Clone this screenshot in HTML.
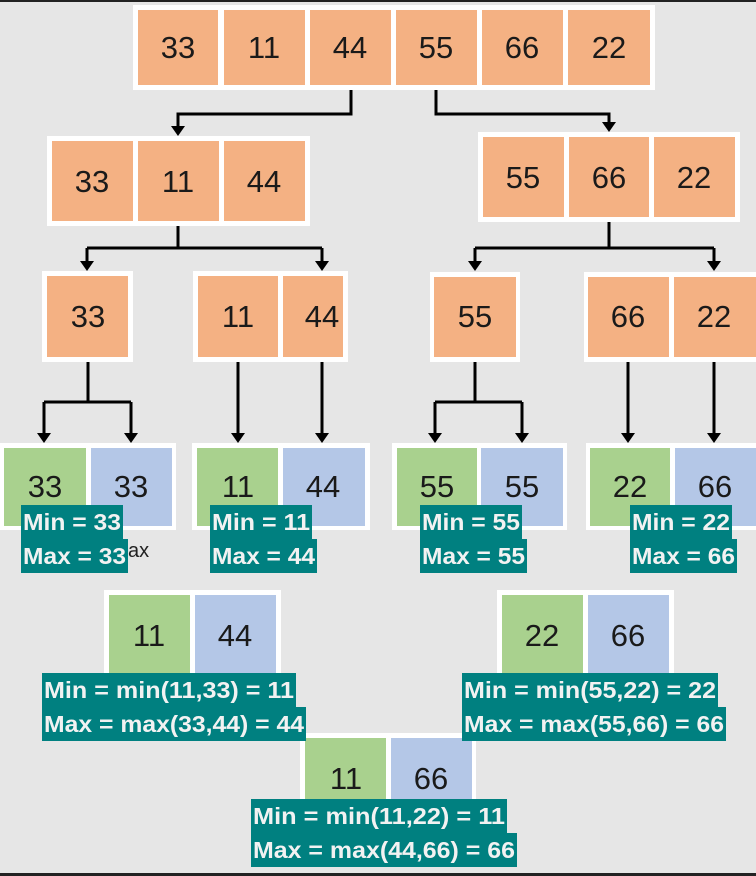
<!DOCTYPE html>
<html><head><meta charset="utf-8"><style>
html,body{margin:0;padding:0;background:#e6e6e6;}
svg{display:block}
.n{font-family:"Liberation Sans",sans-serif;font-size:31px;fill:#1a1a1a;text-anchor:middle}
.l{font-family:"Liberation Sans",sans-serif;font-weight:bold;font-size:23px;fill:#f2f2f2}
</style></head><body>
<svg width="756" height="876" viewBox="0 0 756 876" xmlns="http://www.w3.org/2000/svg">
<rect width="756" height="876" fill="#e6e6e6"/>
<rect x="0" y="0" width="756" height="2" fill="#222"/>
<rect x="0" y="873" width="756" height="3" fill="#222"/>
<defs><marker id="a" markerWidth="8" markerHeight="8" refX="4" refY="7" orient="auto" markerUnits="userSpaceOnUse"><path d="M-1,0 L9,0 L4,8 z" fill="#000" transform="translate(0,0)"/></marker></defs>
<g fill="none" stroke="#000" stroke-width="3">
<path d="M351,90 V114 H178 V128"/><path d="M436,90 V114 H609 V124"/>
<path d="M178,226 V248"/><path d="M87,248 H322"/><path d="M87,248 V263"/><path d="M322,248 V263"/>
<path d="M609,222 V248"/><path d="M475,248 H714"/><path d="M475,248 V263"/><path d="M714,248 V263"/>
<path d="M88,361 V402"/><path d="M44,402 H131"/><path d="M44,402 V435"/><path d="M131,402 V435"/>
<path d="M238,361 V435"/><path d="M322,361 V435"/>
<path d="M475,361 V402"/><path d="M435,402 H522"/><path d="M435,402 V435"/><path d="M522,402 V435"/>
<path d="M628,361 V435"/><path d="M714,361 V435"/>
</g>
<g fill="#000">
<path d="M171,126 h14 l-7,10 z"/><path d="M602,122 h14 l-7,10 z"/>
<path d="M80,261 h14 l-7,10 z"/><path d="M315,261 h14 l-7,10 z"/>
<path d="M468,261 h14 l-7,10 z"/><path d="M707,261 h14 l-7,10 z"/>
<path d="M37,433 h14 l-7,10 z"/><path d="M124,433 h14 l-7,10 z"/>
<path d="M231,433 h14 l-7,10 z"/><path d="M315,433 h14 l-7,10 z"/>
<path d="M428,433 h14 l-7,10 z"/><path d="M515,433 h14 l-7,10 z"/>
<path d="M621,433 h14 l-7,10 z"/><path d="M707,433 h14 l-7,10 z"/>
</g>
<g fill="#fff">
<rect x="133" y="5" width="522" height="85"/>
<rect x="47" y="136" width="263" height="90"/>
<rect x="478" y="132" width="262" height="90"/>
<rect x="42" y="271" width="91" height="91"/>
<rect x="193" y="271" width="155" height="91"/>
<rect x="430" y="272" width="90" height="90"/>
<rect x="584" y="272" width="172" height="90"/>
<rect x="0" y="443" width="176" height="87"/>
<rect x="192" y="443" width="178" height="87"/>
<rect x="392" y="443" width="175" height="87"/>
<rect x="586" y="443" width="170" height="87"/>
<rect x="104" y="590" width="177" height="90"/>
<rect x="497" y="590" width="177" height="90"/>
<rect x="300" y="733" width="176" height="80"/>
</g>
<g fill="#f4b183">
<rect x="138" y="10" width="80" height="75"/><rect x="224" y="10" width="81" height="75"/><rect x="310" y="10" width="81" height="75"/>
<rect x="396" y="10" width="81" height="75"/><rect x="482" y="10" width="81" height="75"/><rect x="568" y="10" width="82" height="75"/>
<rect x="52" y="141" width="81" height="80"/><rect x="138" y="141" width="81" height="80"/><rect x="224" y="141" width="81" height="80"/>
<rect x="483" y="137" width="81" height="80"/><rect x="569" y="137" width="80" height="80"/><rect x="654" y="137" width="81" height="80"/>
<rect x="47" y="276" width="81" height="81"/>
<rect x="198" y="276" width="80" height="81"/><rect x="283" y="276" width="60" height="81"/>
<rect x="434" y="277" width="82" height="80"/>
<rect x="588" y="277" width="81" height="80"/><rect x="674" y="277" width="82" height="80"/>
</g>
<g fill="#a9d18e">
<rect x="4" y="448" width="82" height="78"/><rect x="197" y="448" width="81" height="78"/>
<rect x="397" y="448" width="80" height="78"/><rect x="590" y="448" width="80" height="78"/>
<rect x="109" y="595" width="81" height="85"/><rect x="502" y="595" width="81" height="85"/>
<rect x="305" y="738" width="81" height="75"/>
</g>
<g fill="#b4c7e7">
<rect x="91" y="448" width="81" height="78"/><rect x="283" y="448" width="82" height="78"/>
<rect x="481" y="448" width="82" height="78"/><rect x="675" y="448" width="81" height="78"/>
<rect x="195" y="595" width="81" height="85"/><rect x="588" y="595" width="81" height="85"/>
<rect x="391" y="738" width="81" height="75"/>
</g>
<g class="n">
<text x="178" y="58">33</text><text x="264" y="58">11</text><text x="350" y="58">44</text>
<text x="436" y="58">55</text><text x="522" y="58">66</text><text x="609" y="58">22</text>
<text x="92" y="192">33</text><text x="178" y="192">11</text><text x="264" y="192">44</text>
<text x="523" y="188">55</text><text x="609" y="188">66</text><text x="694" y="188">22</text>
<text x="88" y="327">33</text><text x="238" y="327">11</text><text x="322" y="327">44</text>
<text x="475" y="327">55</text><text x="628" y="327">66</text><text x="714" y="327">22</text>
<text x="45" y="497">33</text><text x="131" y="497">33</text><text x="238" y="497">11</text><text x="323" y="497">44</text>
<text x="437" y="497">55</text><text x="522" y="497">55</text><text x="630" y="497">22</text><text x="715" y="497">66</text>
<text x="149" y="646">11</text><text x="235" y="646">44</text>
<text x="542" y="646">22</text><text x="628" y="646">66</text>
<text x="346" y="789">11</text><text x="431" y="789">66</text>
</g>
<text x="128" y="557" style="font-family:'Liberation Sans',sans-serif;font-size:20px;fill:#222">ax</text>
<g fill="#008080">
<rect x="21" y="505" width="102" height="34"/><rect x="21" y="539" width="107" height="34"/>
<rect x="210" y="505" width="102" height="34"/><rect x="210" y="539" width="107" height="34"/>
<rect x="420" y="505" width="102" height="34"/><rect x="420" y="539" width="107" height="34"/>
<rect x="630" y="505" width="102" height="34"/><rect x="630" y="539" width="107" height="34"/>
<rect x="42" y="673" width="254" height="34"/><rect x="42" y="707" width="264" height="34"/>
<rect x="462" y="673" width="256" height="34"/><rect x="462" y="707" width="264" height="34"/>
<rect x="251" y="799" width="256" height="34"/><rect x="251" y="833" width="266" height="34"/>
</g>
<g class="l">
<text x="23" y="530" textLength="98" lengthAdjust="spacingAndGlyphs">Min = 33</text>
<text x="23" y="564" textLength="103" lengthAdjust="spacingAndGlyphs">Max = 33</text>
<text x="212" y="530" textLength="98" lengthAdjust="spacingAndGlyphs">Min = 11</text>
<text x="212" y="564" textLength="103" lengthAdjust="spacingAndGlyphs">Max = 44</text>
<text x="422" y="530" textLength="98" lengthAdjust="spacingAndGlyphs">Min = 55</text>
<text x="422" y="564" textLength="103" lengthAdjust="spacingAndGlyphs">Max = 55</text>
<text x="632" y="530" textLength="98" lengthAdjust="spacingAndGlyphs">Min = 22</text>
<text x="632" y="564" textLength="103" lengthAdjust="spacingAndGlyphs">Max = 66</text>
<text x="44" y="698" textLength="250" lengthAdjust="spacingAndGlyphs">Min = min(11,33) = 11</text>
<text x="44" y="732" textLength="260" lengthAdjust="spacingAndGlyphs">Max = max(33,44) = 44</text>
<text x="464" y="698" textLength="252" lengthAdjust="spacingAndGlyphs">Min = min(55,22) = 22</text>
<text x="464" y="732" textLength="260" lengthAdjust="spacingAndGlyphs">Max = max(55,66) = 66</text>
<text x="253" y="824" textLength="252" lengthAdjust="spacingAndGlyphs">Min = min(11,22) = 11</text>
<text x="253" y="858" textLength="262" lengthAdjust="spacingAndGlyphs">Max = max(44,66) = 66</text>
</g>
</svg>
</body></html>
